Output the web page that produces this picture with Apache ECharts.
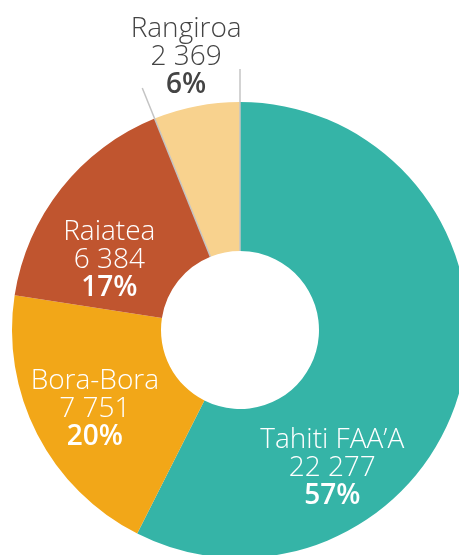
<!DOCTYPE html>
<html>
<head>
<meta charset="utf-8">
<script src="https://cdn.jsdelivr.net/npm/echarts@6/dist/echarts.min.js"></script>
<style>
html,body{margin:0;padding:0;background:#fff;overflow:hidden;}
#c{width:459px;height:555px;}
</style>
</head>
<body>
<div id="c"></div>
<script>
const categories = ['Tahiti FAA\u2019A', 'Bora-Bora', 'Raiatea', 'Rangiroa'];
const values = [22277, 7751, 6384, 2369];

const colors = ['#35b4a7', '#f2a718', '#c0552f', '#f8d28e'];
const labelColors = ['#ffffff', '#ffffff', '#ffffff', '#444444'];
const labelOffsets = [[-60, 102], [-6, 7], [-8, 27], [-24, -119]];

const total = values.reduce((a, b) => a + b, 0);
const cum = [];
values.reduce((a, v, i) => { cum[i] = a + v; return a + v; }, 0);
// separators around Rangiroa (last slice): its start angle and the 0 angle
const sepAngles = [cum[values.length - 2], 0];

const fmt = v => String(v).replace(/\B(?=(\d{3})+(?!\d))/g, ' ');

const CX = 240, CY = 330, R0 = 79, R1 = 228, RL = 261, RP = 270;
const font = '"Open Sans", sans-serif';

const chart = echarts.init(document.getElementById('c'), null, {renderer: 'canvas'});
chart.setOption({
  animation: false,
  backgroundColor: '#ffffff',
  polar: {center: [CX, CY], radius: RP},
  angleAxis: {type: 'value', min: 0, max: total, startAngle: 90, clockwise: true, show: false},
  radiusAxis: {type: 'value', min: 0, max: RP, show: false},
  series: [
    {
      type: 'pie',
      center: [CX, CY],
      radius: [R0, R1],
      startAngle: 90,
      clockwise: true,
      avoidLabelOverlap: false,
      percentPrecision: 0,
      labelLine: {show: false},
      z: 2,
      label: {
        show: true,
        position: 'inside',
        fontFamily: font,
        formatter: p => '{n|' + p.name + '}\n{v|' + fmt(p.value) + '}\n{p|' + p.percent + '%}',
        rich: {
          n: {fontFamily: font, fontSize: 28, fontWeight: 300, lineHeight: 28, align: 'center'},
          v: {fontFamily: font, fontSize: 28, fontWeight: 300, lineHeight: 28, align: 'center'},
          p: {fontFamily: font, fontSize: 28, fontWeight: 600, lineHeight: 28, align: 'center'}
        }
      },
      data: categories.map((c, i) => ({
        name: c,
        value: values[i],
        itemStyle: {color: colors[i]},
        label: {color: labelColors[i], offset: labelOffsets[i]}
      }))
    },
    ...sepAngles.map(a => ({
      type: 'line',
      coordinateSystem: 'polar',
      symbol: 'none',
      z: 5,
      lineStyle: {color: '#c4c4c4', width: 1.5},
      data: [[R0, a], [RL, a]]
    }))
  ]
});
</script>
</body>
</html>
